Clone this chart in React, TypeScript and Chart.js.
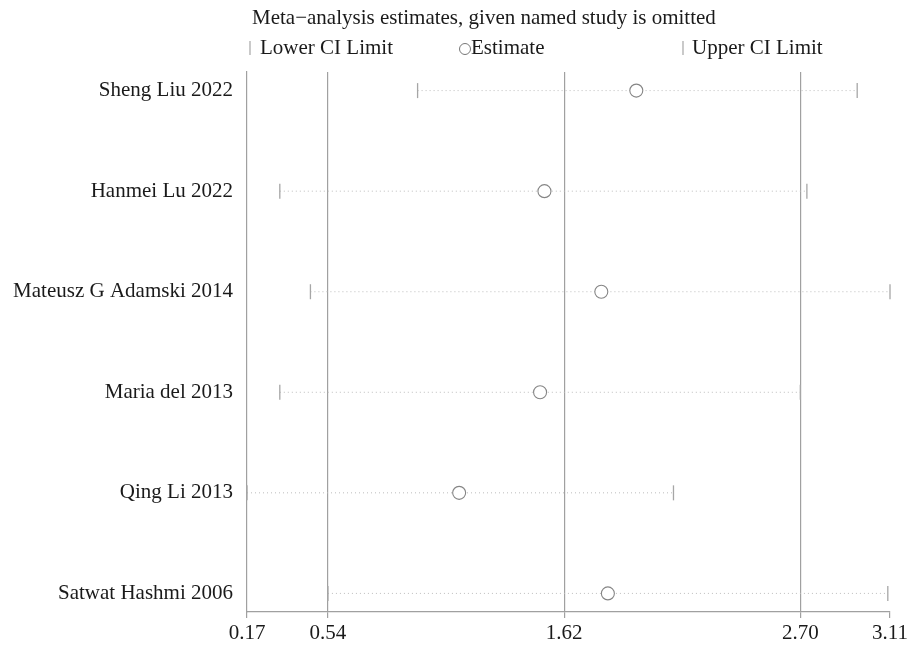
import React, { useEffect, useRef } from "react";
import { Chart, registerables } from "chart.js";

Chart.register(...registerables);

const studies = [
  "Sheng Liu 2022",
  "Hanmei Lu 2022",
  "Mateusz G Adamski 2014",
  "Maria del 2013",
  "Qing Li 2013",
  "Satwat Hashmi 2006",
];
const lowerCI = [0.95, 0.32, 0.46, 0.32, 0.17, 0.54];
const estimate = [1.95, 1.53, 1.79, 1.51, 1.14, 1.82];
const upperCI = [2.96, 2.73, 3.11, 2.70, 2.12, 3.10];
const xTicks = [0.17, 0.54, 1.62, 2.7, 3.11];
const gridValues = [0.54, 1.62, 2.7];
const titleText = "Meta\u2212analysis estimates, given named study is omitted";
const legendLabels = ["Lower CI Limit", "Estimate", "Upper CI Limit"];

const FONT = '"Liberation Serif", "Times New Roman", serif';
const GRID = "#a0a0a0";
const MARK = "#a6a6a6";

const headerPlugin = {
  id: "header",
  afterDraw(chart: any) {
    const { ctx, chartArea } = chart;
    const left = chartArea.left;
    ctx.save();
    ctx.font = `21px ${FONT}`;
    ctx.fillStyle = "#1a1a1a";
    ctx.textBaseline = "middle";
    ctx.textAlign = "left";
    ctx.fillText(titleText, left + 5, 18);
    const y = 48;
    // Lower
    ctx.strokeStyle = MARK;
    ctx.lineWidth = 1.2;
    ctx.beginPath();
    ctx.moveTo(left + 3, y - 7);
    ctx.lineTo(left + 3, y + 7);
    ctx.stroke();
    ctx.fillText(legendLabels[0], left + 13, y);
    // Estimate
    const ex = left + 218;
    ctx.strokeStyle = "#777";
    ctx.lineWidth = 1;
    ctx.beginPath();
    ctx.arc(ex, y + 1, 5.5, 0, Math.PI * 2);
    ctx.stroke();
    ctx.fillText(legendLabels[1], ex + 6, y);
    // Upper
    const ux = left + 436;
    ctx.strokeStyle = MARK;
    ctx.lineWidth = 1.2;
    ctx.beginPath();
    ctx.moveTo(ux, y - 7);
    ctx.lineTo(ux, y + 7);
    ctx.stroke();
    ctx.fillText(legendLabels[2], ux + 9, y);
    ctx.restore();
  },
};

export default function App() {
  const ref = useRef<HTMLCanvasElement | null>(null);
  useEffect(() => {
    document.body.style.margin = "0";
    const canvas = ref.current;
    if (!canvas) return;
    const rows = studies.map((_, i) => i + 1);
    const lineSets = studies.map((_, i) => ({
      label: "ci" + i,
      data: [
        { x: lowerCI[i], y: rows[i] },
        { x: upperCI[i], y: rows[i] },
      ],
      showLine: true,
      borderColor: "#bdbdbd",
      borderWidth: 1,
      borderDash: [1, 3],
      pointRadius: 0,
      clip: false as any,
    }));
    const chart = new Chart(canvas, {
      type: "scatter",
      data: {
        datasets: [
          {
            label: "Estimate",
            data: estimate.map((v, i) => ({ x: v, y: rows[i] })),
            pointStyle: "circle",
            pointRadius: 6.5,
            pointBorderColor: "#858585",
            pointBackgroundColor: "#ffffff",
            pointBorderWidth: 1.1,
            clip: false as any,
          },
          {
            label: "Lower CI Limit",
            data: lowerCI.map((v, i) => ({ x: v, y: rows[i] })),
            pointStyle: "line",
            rotation: 90,
            pointRadius: 7.5,
            pointBorderColor: MARK,
            pointBorderWidth: 1.3,
            clip: false as any,
          },
          {
            label: "Upper CI Limit",
            data: upperCI.map((v, i) => ({ x: v, y: rows[i] })),
            pointStyle: "line",
            rotation: 90,
            pointRadius: 7.5,
            pointBorderColor: MARK,
            pointBorderWidth: 1.3,
            clip: false as any,
          },
          ...lineSets,
        ] as any,
      },
      options: {
        responsive: false,
        animation: false,
        layout: { padding: { top: 72, right: 29, left: 0, bottom: 0 } },
        plugins: {
          legend: { display: false },
          tooltip: { enabled: false },
          title: { display: false },
        },
        scales: {
          x: {
            type: "linear",
            min: 0.17,
            max: 3.11,
            afterBuildTicks: (scale: any) => {
              scale.ticks = xTicks.map((v) => ({ value: v }));
            },
            afterFit: (scale: any) => {
              scale.height = 33;
            },
            ticks: {
              autoSkip: false,
              maxRotation: 0,
              padding: 3,
              color: "#1a1a1a",
              font: { family: FONT, size: 21 },
              callback: (v: any) => Number(v).toFixed(2),
            },
            grid: {
              color: (c: any) =>
                c.tick && gridValues.includes(c.tick.value) ? GRID : "rgba(0,0,0,0)",
              tickColor: GRID,
              tickLength: 6,
              lineWidth: 1.2,
            },
            border: { display: true, color: GRID, width: 1.2 },
          },
          y: {
            type: "linear",
            reverse: true,
            min: 0.815,
            max: 6.185,
            afterBuildTicks: (scale: any) => {
              scale.ticks = rows.map((v) => ({ value: v }));
            },
            afterFit: (scale: any) => {
              scale.width = 247;
            },
            ticks: {
              autoSkip: false,
              padding: 14,
              color: "#1a1a1a",
              font: { family: FONT, size: 21 },
              callback: (v: any) => studies[Math.round(Number(v)) - 1] ?? "",
            },
            grid: { display: false, drawTicks: false },
            border: { display: true, color: GRID, width: 1.2 },
          },
        },
      },
      plugins: [headerPlugin],
    });
    return () => chart.destroy();
  }, []);
  return (
    <div style={{ width: 919, height: 645, background: "#fff" }}>
      <canvas ref={ref} width={919} height={645} />
    </div>
  );
}
